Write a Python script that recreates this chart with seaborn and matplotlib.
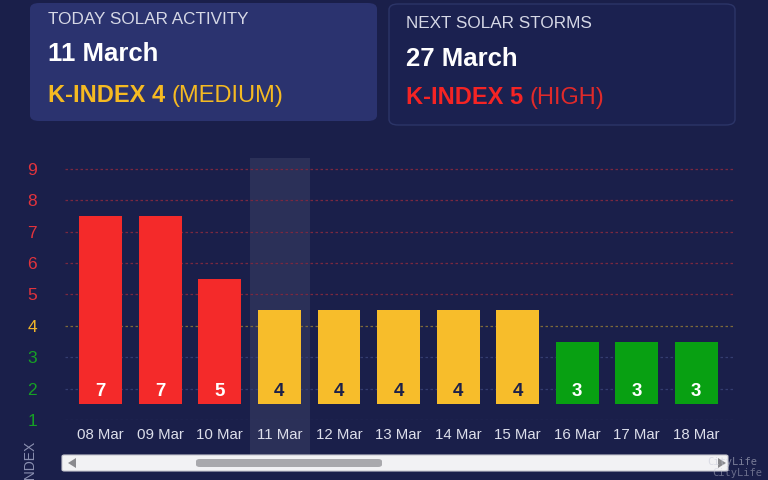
import matplotlib
matplotlib.use("Agg")
import matplotlib.pyplot as plt
import seaborn as sns
import pandas as pd
from matplotlib.patches import FancyBboxPatch, Polygon

# ---- data ----
dates = ["08 Mar", "09 Mar", "10 Mar", "11 Mar", "12 Mar", "13 Mar",
         "14 Mar", "15 Mar", "16 Mar", "17 Mar", "18 Mar"]
kindex = [7, 7, 5, 4, 4, 4, 4, 4, 3, 3, 3]
ytick_values = [1, 2, 3, 4, 5, 6, 7, 8, 9]
today_label = "11 Mar"

BG = "#1a1f4a"
RED = "#f42a2a"
YEL = "#f7bd2b"
GRN = "#08a012"


def level_color(v):
    if v >= 5:
        return RED
    if v == 4:
        return YEL
    return GRN


def tick_color(v):
    if v >= 5:
        return "#e2333c"
    if v == 4:
        return "#f0b52a"
    return "#16a025"


def grid_color(v):
    if v >= 5:
        return "#7a2840"
    if v == 4:
        return "#7d6a3a"
    return "#343d70"


sns.set_theme(style="white")
plt.rcParams["font.family"] = ["Liberation Sans", "DejaVu Sans"]

fig = plt.figure(figsize=(7.68, 4.8), dpi=100, facecolor=BG)

# ---- chart axes ----
ax = fig.add_axes([65 / 768, 1 - 420 / 480, 670 / 768, (420 - 158) / 480])
ax.set_facecolor(BG)

df = pd.DataFrame({"date": dates, "k": kindex})
df["span"] = df["k"] - 1  # bar drawn from 1.5 up to k + 0.5
palette = {d: level_color(v) for d, v in zip(dates, kindex)}

for v in ytick_values:
    ax.axhline(v, color=grid_color(v), lw=0.9, ls=(0, (2, 2)), zorder=0.5)

sns.barplot(data=df, x="date", y="span", hue="date", palette=palette, legend=False,
            width=0.72, bottom=1.5, ax=ax, zorder=2, linewidth=0, saturation=1)

ax.set_xlim(-0.6, 10.65)
ax.set_ylim(1.0, 9.35)

# highlight today's column
ti = dates.index(today_label)
ax.axvspan(ti - 0.49, ti + 0.52, ymin=0, ymax=1, facecolor="#ffffff", alpha=0.08,
           lw=0, zorder=0)
hl = plt.Rectangle((ti - 0.49, -0.14), 1.01, 0.14, transform=ax.get_xaxis_transform(),
                   facecolor="#ffffff", alpha=0.08, lw=0, clip_on=False, zorder=0)
ax.add_patch(hl)

for i, v in enumerate(kindex):
    ax.text(i, 1.9, str(v), ha="center", va="center", fontsize=13.5, fontweight="bold",
            color="#1c2048" if v == 4 else "white", zorder=3)

ax.set_xlabel("")
ax.set_ylabel("")
ax.set_yticks(ytick_values)
ax.set_yticklabels([str(v) for v in ytick_values], fontsize=12.5)
for lab, v in zip(ax.get_yticklabels(), ytick_values):
    lab.set_color(tick_color(v))
ax.tick_params(axis="y", length=0, pad=20)
ax.tick_params(axis="x", length=0, pad=6, labelsize=10.8, labelcolor="#dcdeea")
for s in ax.spines.values():
    s.set_visible(False)

# y-axis title (partially cut off at the bottom, as in the reference)
fig.text(30 / 768, 1 - 440 / 480, "K-INDEX", rotation=90, ha="center", va="top",
         fontsize=10, color="#8a8fb0")

# ---- cards ----
card1 = FancyBboxPatch((30 / 768, 1 - 121 / 480), 347 / 768, 118 / 480,
                       boxstyle="round,pad=0,rounding_size=0.012",
                       transform=fig.transFigure, facecolor="#2b336f", edgecolor="none")
card2 = FancyBboxPatch((389 / 768, 1 - 125 / 480), 346 / 768, 121 / 480,
                       boxstyle="round,pad=0,rounding_size=0.012",
                       transform=fig.transFigure, facecolor="#1b2150",
                       edgecolor="#2c3568", lw=1)
fig.patches.extend([card1, card2])

fig.text(48 / 768, 1 - 19 / 480, "TODAY SOLAR ACTIVITY", fontsize=12.3,
         color="#d6d8e6", va="center")
fig.text(48 / 768, 1 - 54 / 480, "11 March", fontsize=18.5, fontweight="bold",
         color="white", va="center")
t1 = fig.text(48 / 768, 1 - 96 / 480, "K-INDEX 4 ", fontsize=17, fontweight="bold",
              color="#f5ba22", va="center")
fig.canvas.draw()
bb = t1.get_window_extent()
fig.text(bb.x1 / 768, 1 - 96 / 480, "(MEDIUM)", fontsize=17, color="#f5ba22",
         va="center")

fig.text(406 / 768, 1 - 23 / 480, "NEXT SOLAR STORMS", fontsize=12.3,
         color="#d6d8e6", va="center")
fig.text(406 / 768, 1 - 59 / 480, "27 March", fontsize=18.5, fontweight="bold",
         color="white", va="center")
t2 = fig.text(406 / 768, 1 - 98 / 480, "K-INDEX 5 ", fontsize=17, fontweight="bold",
              color="#f52424", va="center")
fig.canvas.draw()
bb2 = t2.get_window_extent()
fig.text(bb2.x1 / 768, 1 - 98 / 480, "(HIGH)", fontsize=17, color="#e02a2a",
         va="center")

# ---- scrollbar ----
track = FancyBboxPatch((62 / 768, 1 - 471 / 480), 666 / 768, 16 / 480,
                       boxstyle="round,pad=0,rounding_size=0.003",
                       transform=fig.transFigure, facecolor="#f2f2f4", edgecolor="#c8c8d0",
                       lw=0.8)
thumb = FancyBboxPatch((196 / 768, 1 - 467 / 480), 186 / 768, 8 / 480,
                       boxstyle="round,pad=0,rounding_size=0.005",
                       transform=fig.transFigure, facecolor="#a9a9ad", edgecolor="none")
larrow = Polygon([(68 / 768, 1 - 463 / 480), (76 / 768, 1 - 458 / 480),
                  (76 / 768, 1 - 468 / 480)], closed=True, transform=fig.transFigure,
                 facecolor="#8a8a8e", edgecolor="none")
rarrow = Polygon([(726 / 768, 1 - 463 / 480), (718 / 768, 1 - 458 / 480),
                  (718 / 768, 1 - 468 / 480)], closed=True, transform=fig.transFigure,
                 facecolor="#8a8a8e", edgecolor="none")
fig.patches.extend([track, thumb, larrow, rarrow])

# watermark
fig.text(707 / 768, 1 - 462 / 480, "CityLife", fontsize=7.5, family="DejaVu Sans Mono",
         color="#c8cad8", alpha=0.55, va="center")
fig.text(712 / 768, 1 - 473 / 480, "CityLife", fontsize=7.5, family="DejaVu Sans Mono",
         color="#c8cad8", alpha=0.45, va="center")

fig.savefig("out.png", dpi=100, facecolor=BG)
